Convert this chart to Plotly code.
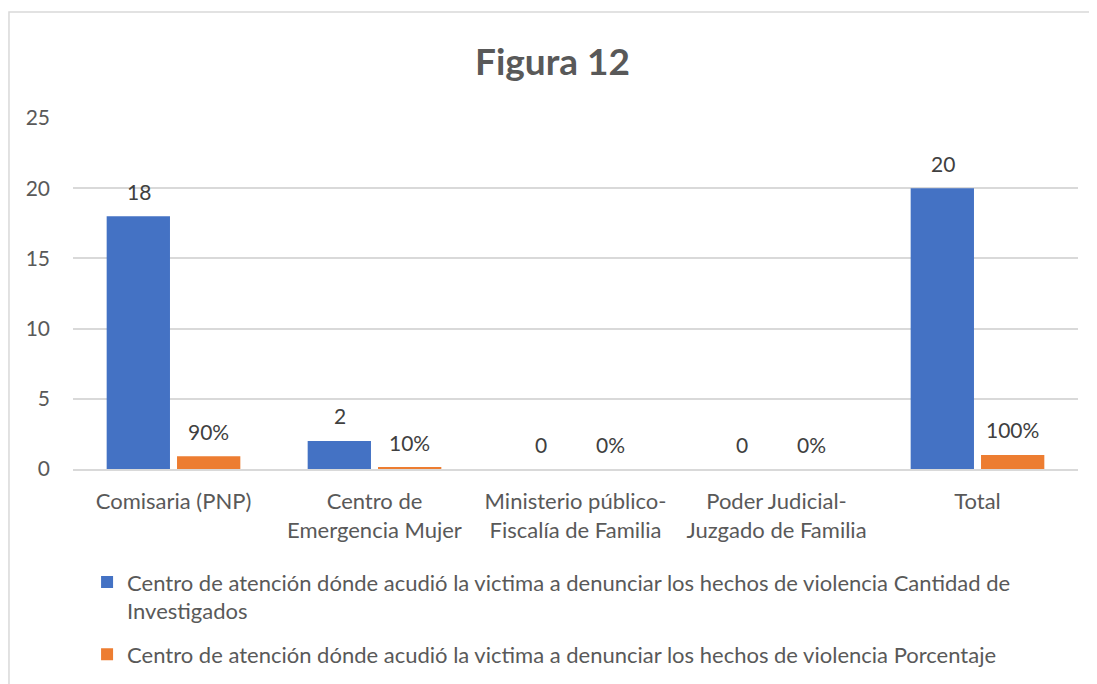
import plotly.graph_objects as go

categorias = ["Comisaria (PNP)", "Centro de<br>Emergencia Mujer", "Ministerio público-<br>Fiscalía de Familia",
              "Poder Judicial-<br>Juzgado de Familia", "Total"]
cantidad = [18, 2, 0, 0, 20]
porcentaje = [0.9, 0.1, 0, 0, 1.0]

serie_1 = "Centro de atención dónde acudió la victima a denunciar los hechos de violencia Cantidad de<br>Investigados"
serie_2 = "Centro de atención dónde acudió la victima a denunciar los hechos de violencia Porcentaje"

FONT = "Lato, 'Open Sans', sans-serif"
GRIS = "#595959"

fig = go.Figure()
fig.add_trace(go.Bar(
    x=categorias, y=cantidad, name=serie_1, legendgroup="a",
    marker=dict(color="#4472C4", line=dict(width=0)),
))
fig.add_trace(go.Bar(
    x=categorias, y=porcentaje, name=serie_2, legendgroup="b",
    marker=dict(color="#ED7D31", line=dict(width=0)),
))

# etiquetas de datos un poco más separadas de la barra (como en Excel)
etiquetas = []
for cat, v, p in zip(categorias, cantidad, porcentaje):
    etiquetas.append(dict(x=cat, y=v, text=str(v), xshift=-35, yshift=25))
    etiquetas.append(dict(x=cat, y=p, text=f"{p:.0%}", xshift=35, yshift=25))
for a in etiquetas:
    a.update(xref="x", yref="y", showarrow=False, yanchor="middle",
             font=dict(size=21, color="#404040", family=FONT))

# la página añade 8 px de margen al cuerpo, por eso 1089x676
fig.update_layout(
    width=1089, height=676,
    paper_bgcolor="white", plot_bgcolor="white",
    font=dict(family=FONT, color=GRIS, size=22),
    title=dict(text="<b>Figura 12</b>", x=0.5, xanchor="center", y=0.92, yanchor="middle",
               font=dict(size=37, color=GRIS, family=FONT)),
    barmode="group", bargap=0.3, bargroupgap=0.1,
    margin=dict(l=65, r=19, t=110, b=215, autoexpand=False),
    xaxis=dict(showgrid=False, showline=True, linecolor="#D9D9D9", linewidth=1.5,
               tickfont=dict(size=22, color=GRIS), ticks="", ticklabelstandoff=12),
    yaxis=dict(range=[0, 25], dtick=5, showgrid=True, gridcolor="#D9D9D9", gridwidth=1.5,
               zeroline=False, tickfont=dict(size=21, color=GRIS), ticklabelstandoff=22),
    legend=dict(orientation="v", x=0.014, xanchor="left", y=-0.263, yanchor="top", valign="top",
                font=dict(size=22, color=GRIS), tracegroupgap=12, itemwidth=30),
    annotations=etiquetas,
    shapes=[dict(type="rect", xref="paper", yref="paper", x0=-0.0637, x1=1.012, y0=-0.7, y1=1.302,
                 line=dict(color="#D9D9D9", width=1.5), fillcolor="rgba(0,0,0,0)", layer="below")],
    showlegend=True,
)

fig.write_html("out.html")
